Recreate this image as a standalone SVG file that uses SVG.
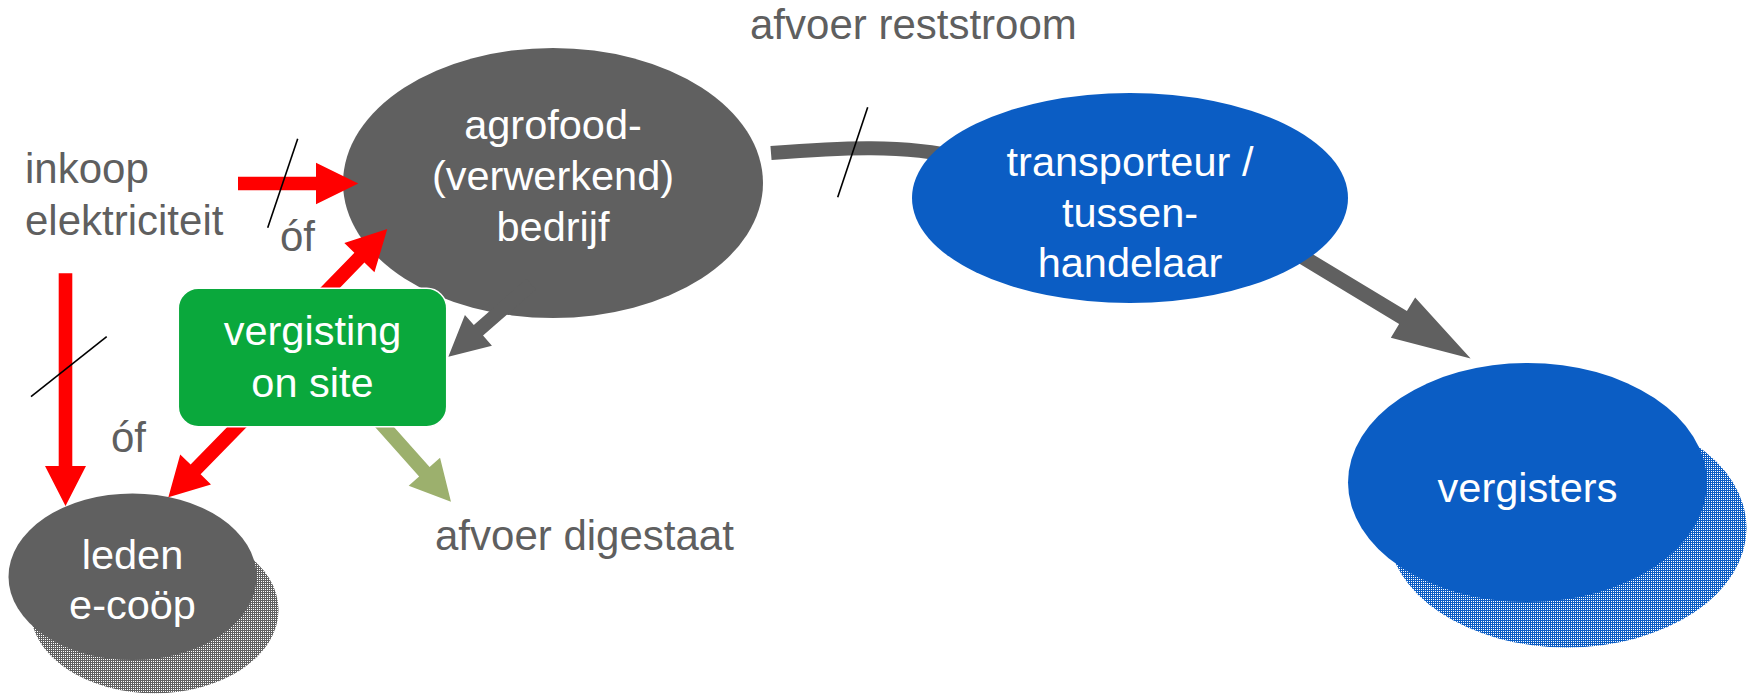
<svg xmlns="http://www.w3.org/2000/svg" width="1749" height="695" viewBox="0 0 1749 695">
  <style>
    .lbl { font-family: "Liberation Sans", Arial, sans-serif; font-size: 42px; fill: #5f5f5f; }
    .in { font-family: "Liberation Sans", Arial, sans-serif; font-size: 41.5px; fill: #ffffff; text-anchor: middle; }
    .grayN { fill: #606060; }
    .blueN { fill: #0B5DC4; }
    .red { fill: #FF0000; }
    .dark { fill: #606060; }
    .olive { fill: #9CB06D; }
    .slash { stroke: #000000; stroke-width: 1.6; fill: none; }
  </style>
  <defs>
    <pattern id="hatchGray" width="2" height="2" patternUnits="userSpaceOnUse">
      <rect width="2" height="2" fill="#ffffff"/>
      <rect width="2" height="1" fill="#606060"/>
      <rect width="1" height="2" fill="#606060"/>
    </pattern>
    <pattern id="hatchBlue" width="2" height="2" patternUnits="userSpaceOnUse">
      <rect width="2" height="2" fill="#ffffff"/>
      <rect width="2" height="1" fill="#0B5DC4"/>
      <rect width="1" height="2" fill="#0B5DC4"/>
    </pattern>
  </defs>

  <rect width="1749" height="695" fill="#ffffff"/>

  <!-- free labels -->
  <text class="lbl" x="750" y="39">afvoer reststroom</text>
  <text class="lbl" x="25" y="183">inkoop</text>
  <text class="lbl" x="25" y="235">elektriciteit</text>
  <text class="lbl" x="280" y="251">óf</text>
  <text class="lbl" x="111" y="452">óf</text>
  <text class="lbl" x="435" y="550">afvoer digestaat</text>

  <g id="leden">
    <ellipse cx="154.5" cy="610" rx="124" ry="83.3" fill="url(#hatchGray)"/>
    <ellipse class="grayN" cx="132.5" cy="576.7" rx="124" ry="83.3"/>
    <text class="in" x="132.5" y="569.3">leden</text>
    <text class="in" x="132.5" y="619.3">e-coöp</text>
  </g>

  <g id="agrofood">
    <ellipse class="grayN" cx="553" cy="183" rx="210" ry="135"/>
    <text class="in" x="553" y="139">agrofood-</text>
    <text class="in" x="553" y="190">(verwerkend)</text>
    <text class="in" x="553" y="241">bedrijf</text>
  </g>

  <g id="connectors">
    <!-- afvoer reststroom: agrofood -> transporteur -->
    <path d="M771,153 C840,147.5 905,144 962,158" fill="none" stroke="#606060" stroke-width="14"/>
    <!-- transporteur -> vergisters -->
    <polygon class="dark" transform="translate(1248.1,223.9) rotate(31.15)" points="0,-7.5 181,-7.5 181,-23.5 260,0 181,23.5 181,7.5 0,7.5"/>
    <!-- agrofood -> vergisting -->
    <polygon class="dark" transform="translate(531.1,284.2) rotate(138.8)" points="0,-7 70,-7 70,-20.5 110,0 70,20.5 70,7 0,7"/>
    <!-- inkoop -> agrofood -->
    <polygon class="red" points="238,176.8 316,176.8 316,162.8 358.3,183.5 316,204.2 316,190.2 238,190.2"/>
    <!-- inkoop -> leden -->
    <polygon class="red" points="58.7,273.3 72.3,273.3 72.3,466 86,466 65.5,506 45,466 58.7,466"/>
    <!-- vergisting -> agrofood -->
    <polygon class="red" transform="translate(307.1,311.5) rotate(-45.8)" points="0,-7 75,-7 75,-21 115,0 75,21 75,7 0,7"/>
    <!-- vergisting -> leden -->
    <polygon class="red" transform="translate(245.2,418.6) rotate(134.3)" points="0,-7 71,-7 71,-21.5 110,0 71,21.5 71,7 0,7"/>
    <!-- vergisting -> afvoer digestaat -->
    <polygon class="olive" transform="translate(377.8,419.5) rotate(48.3)" points="0,-7 70,-7 70,-21 110,0 70,21 70,7 0,7"/>
    <!-- strike-through marks -->
    <line class="slash" x1="867.7" y1="107.3" x2="837.7" y2="197.3"/>
    <line class="slash" x1="297.7" y1="138.7" x2="267.7" y2="227.7"/>
    <line class="slash" x1="106.7" y1="336.7" x2="31" y2="396.7"/>
  </g>

  <g id="transporteur">
    <ellipse class="blueN" cx="1130" cy="198" rx="218" ry="105"/>
    <text class="in" x="1130" y="176">transporteur /</text>
    <text class="in" x="1130" y="227">tussen-</text>
    <text class="in" x="1130" y="277">handelaar</text>
  </g>

  <g id="vergisters">
    <ellipse cx="1567" cy="528" rx="179.5" ry="119.5" fill="url(#hatchBlue)"/>
    <ellipse class="blueN" cx="1527.5" cy="482.5" rx="179.5" ry="119.5"/>
    <text class="in" x="1527.5" y="502">vergisters</text>
  </g>

  <g id="vergisting">
    <rect x="178.3" y="288.3" width="268.4" height="138.4" rx="20" ry="20" fill="#0AA83C" stroke="#ffffff" stroke-width="1.5"/>
    <text class="in" x="312.5" y="345">vergisting</text>
    <text class="in" x="312.5" y="396.7">on site</text>
  </g>
</svg>
